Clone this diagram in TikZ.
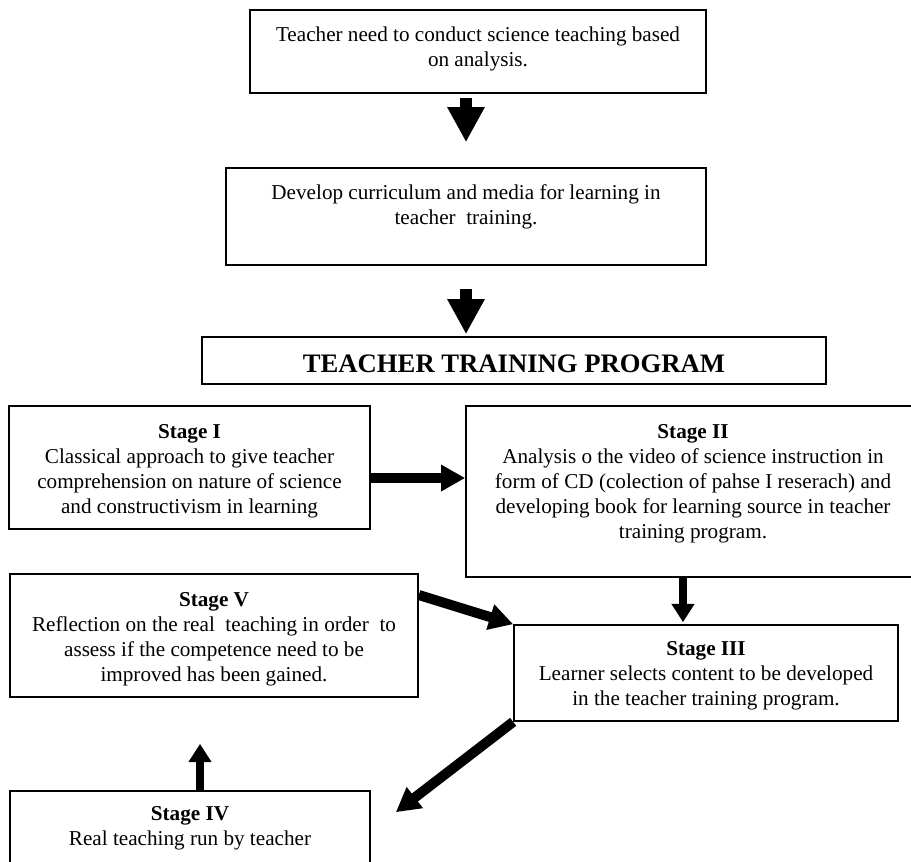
\documentclass[tikz,border=0pt]{standalone}
\usepackage{fontspec}
\setmainfont{Liberation Serif}
\usetikzlibrary{arrows.meta,fit}

\begin{document}
\begin{tikzpicture}[
    x=0.6pt, y=-0.6pt,
    box/.style={draw, line width=1pt, inner sep=0pt},
    txt/.style={anchor=north, inner sep=0pt, align=center,
                font=\fontsize{12.7}{15}\selectfont},
    title/.style={inner sep=0pt, font=\fontsize{16}{19}\selectfont\bfseries},
    bigarrow/.style={-{Triangle[width=21pt,length=21pt]}, line width=7.2pt},
    arrow/.style={-{Triangle[width=15pt,length=14.4pt]}, line width=6pt},
    thinarrow/.style={-{Triangle[width=13.2pt,length=11pt]}, line width=4.8pt}
]
\useasboundingbox (0,0) rectangle (911,861);
\clip (0,0) rectangle (911,861);

% ── Top path ──
\node[box, fit={(250,10)(706,93)}] (need) {};
\node[txt] (needtxt) at ([yshift=-10.2pt]need.north)
    {Teacher need to conduct science teaching based\\ on analysis.};

\node[box, fit={(226,168)(706,265)}] (develop) {};
\node[txt] (developtxt) at ([yshift=-10.2pt]develop.north)
    {Develop curriculum and media for learning in\\ teacher\ \ training.};

\node[box, fit={(202,337)(826,384)}] (program) {};
\node[title] (programtxt) at ([yshift=-1.8pt]program.center) {TEACHER TRAINING PROGRAM};

% ── Stages ──
\node[box, fit={(9,406)(370,529)}] (stage1) {};
\node[txt] (stage1txt) at ([yshift=-11.4pt]stage1.north)
    {\textbf{Stage I}\\ Classical approach to give teacher\\
     comprehension on nature of science\\ and constructivism in learning};

\node[box, fit={(466,406)(920,577)}] (stage2) {};
\node[txt] (stage2txt) at ([yshift=-11.4pt]stage2.north)
    {\textbf{Stage II}\\ Analysis o the video of science instruction in\\
     form of CD (colection of pahse I reserach) and\\
     developing book for learning source in teacher\\ training program.};

\node[box, fit={(514,625)(898,721)}] (stage3) {};
\node[txt] (stage3txt) at ([yshift=-10.2pt]stage3.north)
    {\textbf{Stage III}\\ Learner selects content to be developed\\
     in the teacher training program.};

\node[box, fit={(10,791)(370,880)}] (stage4) {};
\node[txt] (stage4txt) at ([yshift=-9.6pt]stage4.north)
    {\textbf{Stage IV}\\ Real teaching run by teacher};

\node[box, fit={(10,574)(418,697)}] (stage5) {};
\node[txt] (stage5txt) at ([yshift=-11.4pt]stage5.north)
    {\textbf{Stage V}\\ Reflection on the real\ \ teaching in order\ \ to\\
     assess if the competence need to be\\ improved has been gained.};

% ── Arrows ──
\draw[bigarrow, shorten <=2.4pt, shorten >=15pt] (need.south -| develop.north) -- (develop.north);
\draw[bigarrow, shorten <=13.8pt, shorten >=1.2pt] (develop.south) -- (develop.south |- program.north);

\coordinate (c12) at ([yshift=-6.3pt]stage1.east);
\draw[arrow] (c12) -- (c12 -| stage2.west);

\coordinate (c23) at ([xshift=-6pt]stage2.south);
\draw[thinarrow, shorten >=1.2pt] (c23) -- (c23 |- stage3.north);

\coordinate (c34) at ([xshift=15pt, yshift=-13.2pt]stage4.north east);
\draw[arrow] (stage3.south west) -- (c34);

\coordinate (c45) at ([xshift=6pt]stage4.north);
\draw[thinarrow, shorten >=27.6pt] (c45) -- (c45 |- stage5.south);

\coordinate (c53) at ([yshift=24.3pt]stage5.east);
\draw[arrow] (c53) -- (stage3.north west);

\end{tikzpicture}
\end{document}
